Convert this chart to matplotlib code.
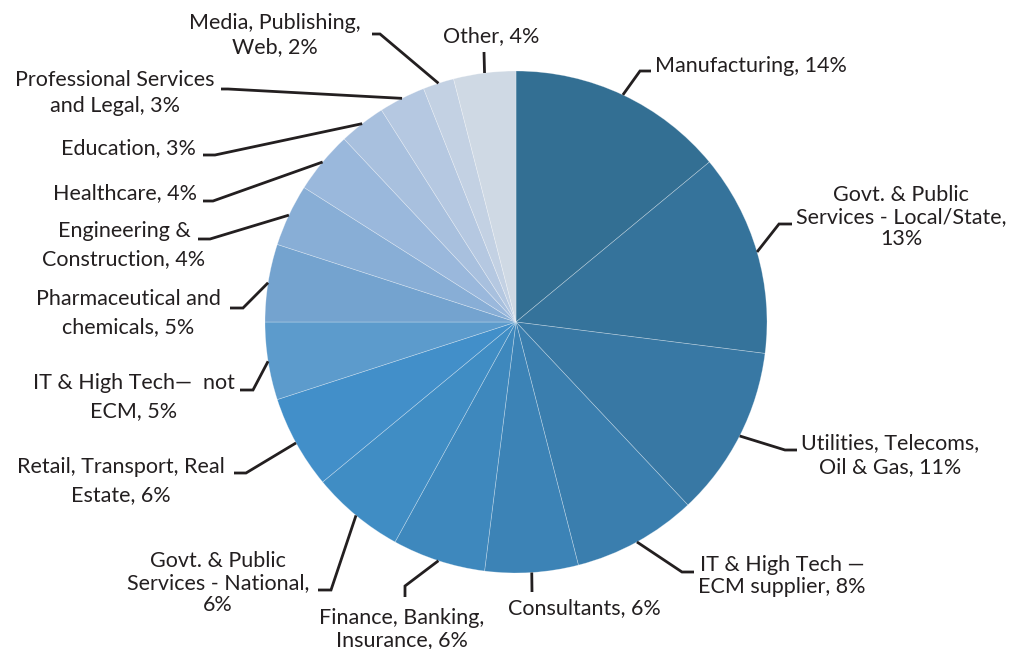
import numpy as np
import matplotlib.pyplot as plt

plt.rcParams['font.family'] = ['Lato', 'DejaVu Sans']

sectors = [
    'Manufacturing, 14%',
    'Govt. & Public\nServices - Local/State,\n13%',
    'Utilities, Telecoms,\nOil & Gas, 11%',
    'IT & High Tech \u2014\nECM supplier, 8%',
    'Consultants, 6%',
    'Finance, Banking,\nInsurance, 6%',
    'Govt. & Public\nServices - National,\n6%',
    'Retail, Transport, Real\nEstate, 6%',
    'IT & High Tech\u2014  not\nECM, 5%',
    'Pharmaceutical and\nchemicals, 5%',
    'Engineering &\nConstruction, 4%',
    'Healthcare, 4%',
    'Education, 3%',
    'Professional Services\nand Legal, 3%',
    'Media, Publishing,\nWeb, 2%',
    'Other, 4%',
]
shares = [14, 13, 11, 8, 6, 6, 6, 6, 5, 5, 4, 4, 3, 3, 2, 4]
colors = ['#336f93', '#35739b', '#3878a4', '#3a7eae', '#3c83b6', '#3e88bd',
          '#408dc4', '#428fc9', '#5c9bcc', '#74a3cf', '#88aed6', '#9ab8dc',
          '#a8c0de', '#b5c8e1', '#c3d1e3', '#cfd9e4']

# label layout in pixels: elbow, hook end, text position, ha, linespacing
W, H = 1011, 649
CX, CY, R = 516, 322, 251
layout = [
    ((640, 71), (651, 71), (655, 66), 'left', 1.2),
    ((779, 224), (792, 224), (901, 217), 'center', 1.12),
    ((785, 450), (797, 450), (890, 455), 'center', 1.2),
    ((682, 572), (694, 572), (698, 576), 'left', 1.15),
    ((532, 592), (532, 592), (584, 608), 'center', 1.2),
    ((405, 586), (405, 597), (402, 629), 'center', 1.15),
    ((331, 590), (318, 590), (218, 583), 'center', 1.12),
    ((246, 473), (234, 473), (121, 481), 'center', 1.52),
    ((253, 390), (240, 390), (134, 397), 'center', 1.47),
    ((243, 308), (230, 308), (128, 313), 'center', 1.47),
    ((210, 239), (198, 239), (124, 245), 'center', 1.52),
    ((213, 201), (203, 201), (197, 193), 'right', 1.2),
    ((215, 155), (203, 155), (196, 148), 'right', 1.2),
    ((228, 89), (221, 89), (115, 93), 'center', 1.32),
    ((380, 34), (372, 34), (275, 35), 'center', 1.2),
    ((484, 52), (484, 52), (491, 36), 'center', 1.2),
]


def px(p):
    return ((p[0] - CX) / R, (CY - p[1]) / R)


fig = plt.figure(figsize=(W / 100, H / 100), dpi=100)
ax = fig.add_axes([0, 0, 1, 1])
wedges, _ = ax.pie(shares, colors=colors, startangle=90, counterclock=False,
                   radius=1, wedgeprops={'linewidth': 0.5, 'edgecolor': (1, 1, 1, 0.35)})

for w, name, (elbow, hook, txt, ha, ls) in zip(wedges, sectors, layout):
    mid = np.deg2rad((w.theta1 + w.theta2) / 2)
    start = (np.cos(mid), np.sin(mid))
    e, h = px(elbow), px(hook)
    ax.plot([start[0], e[0], h[0]], [start[1], e[1], h[1]], color='#231f20',
            lw=2.0, solid_capstyle='butt', solid_joinstyle='miter')
    t = px(txt)
    ax.text(t[0], t[1], name, ha=ha, va='center', multialignment='center',
            fontsize=15.5, color='#231f20', linespacing=ls)

ax.set_xlim(-CX / R, (W - CX) / R)
ax.set_ylim(-(H - CY) / R, CY / R)
ax.set_aspect('auto')
ax.axis('off')
fig.savefig('out.png', dpi=100)
